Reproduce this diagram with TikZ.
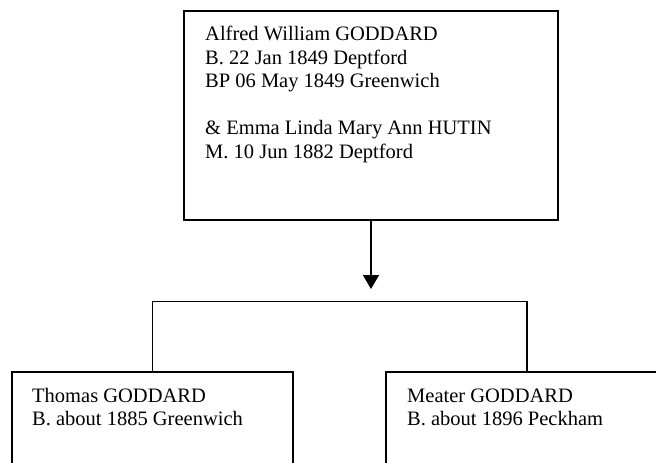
\documentclass[tikz,border=0pt]{standalone}
\usepackage{fontspec}
\setmainfont{Liberation Serif}
\usetikzlibrary{arrows.meta}
\newcommand{\famlines}[1]{\vtop{\baselineskip=23.5pt\lineskiplimit=-100pt\lineskip=0pt #1}}
\tikzset{
  personbox/.style={draw=black, line width=1.6pt, rectangle, inner sep=0pt, outer sep=0pt, anchor=north west},
  persontxt/.style={inner sep=0pt, anchor=base west, font=\fontsize{20.5pt}{23.5pt}\selectfont},
  link/.style={draw=black, line width=1.6pt},
}
\begin{document}
\begin{tikzpicture}[x=1pt, y=-1pt]
\useasboundingbox (0,0) rectangle (656,463);
\clip (0,0) rectangle (656,463);
\node[personbox, minimum width=374pt, minimum height=209pt] (parent) at (184,11) {};
\node[persontxt] (parenttxt) at (205,40.7) {\famlines{\hbox{Alfred William GODDARD}\hbox{B. 22 Jan 1849 Deptford}\hbox{BP 06 May 1849 Greenwich}\hbox{}\hbox{\& Emma Linda Mary Ann HUTIN}\hbox{M. 10 Jun 1882 Deptford}}};
\node[personbox, minimum width=281pt, minimum height=110pt] (left) at (12,372) {};
\node[persontxt] (lefttxt) at (32,402) {\famlines{\hbox{Thomas GODDARD}\hbox{B. about 1885 Greenwich}}};
\node[personbox, minimum width=282pt, minimum height=110pt] (right) at (386,372) {};
\node[persontxt] (righttxt) at (407,402) {\famlines{\hbox{Meater GODDARD}\hbox{B. about 1896 Peckham}}};
\coordinate (tip) at (parent.south |- {(0,289)});
\coordinate (bar) at (parent.south |- {(0,301.5)});
\draw[link, -{Triangle[width=16pt,length=14pt]}] (parent.south) -- (tip);
\draw[link] (left.north) -- (left.north |- bar) -- (right.north |- bar) -- (right.north);
\end{tikzpicture}
\end{document}
